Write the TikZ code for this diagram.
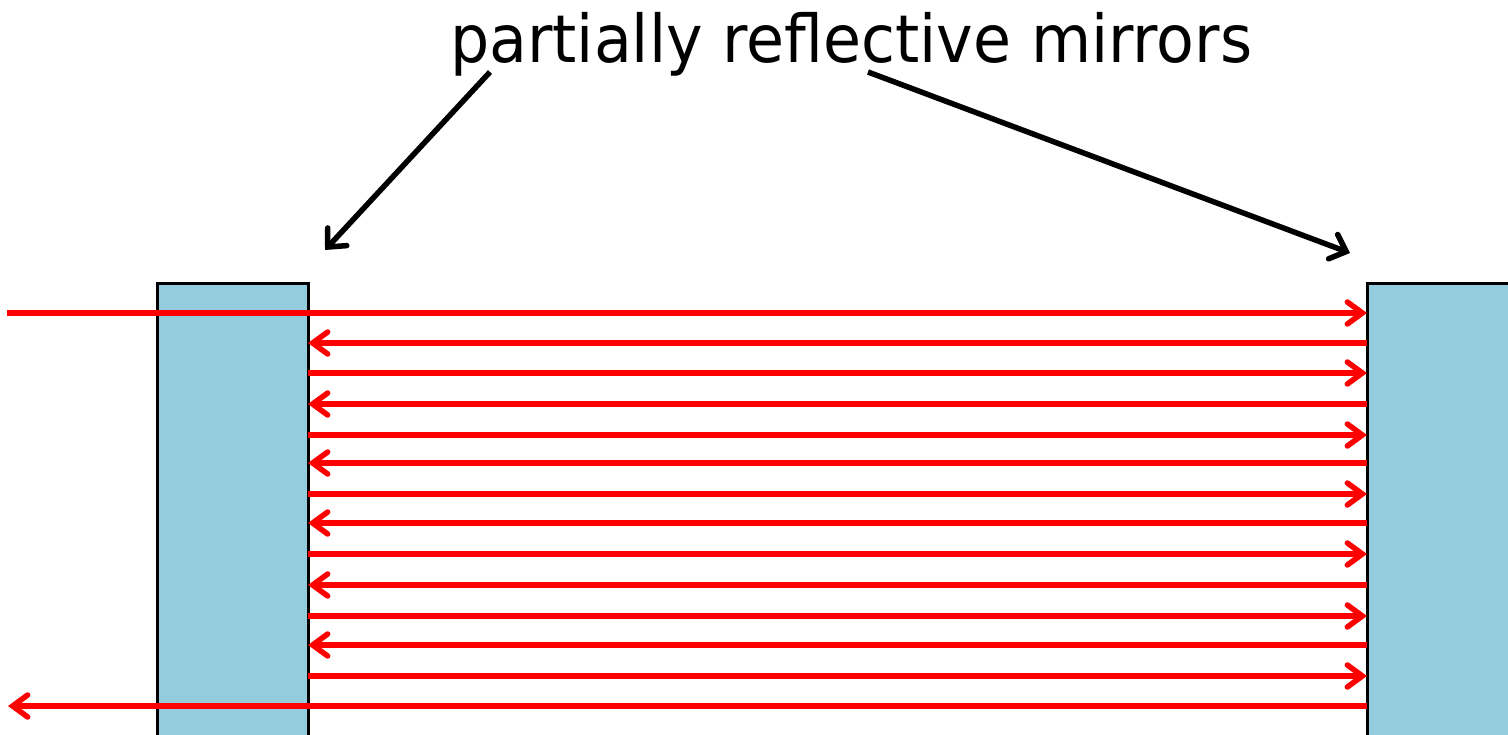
\documentclass[tikz,border=0pt]{standalone}
\usepackage{fontspec}
\setmainfont{DejaVu Sans}
\usetikzlibrary{arrows.meta,calc}
\definecolor{mirrorblue}{HTML}{93CDDD}
\definecolor{beamred}{HTML}{FF0000}
\begin{document}
\begin{tikzpicture}[x=1pt,y=-1pt,
  mirror/.style={draw=black,line width=3pt,fill=mirrorblue,anchor=north west,
    inner sep=0pt,outer sep=0pt,minimum height=480pt},
  beamtip/.style={-{Straight Barb[length=15pt,width=22pt,line cap=round]}},
  beam/.style={draw=beamred,line width=5.5pt,beamtip},
  pointer/.style={draw=black,line width=5.5pt,-{Straight Barb[length=14pt,width=26pt,line cap=round]}}]
\useasboundingbox (0,0) rectangle (1508,734);
\node[mirror,minimum width=151pt] (lm) at (157,283) {};
\node[mirror,minimum width=200pt] (rm) at (1367,283) {};
\node[anchor=base west,inner sep=0pt] (t) at (450,62)
  {\resizebox{802pt}{\height}{\fontsize{66}{66}\selectfont partially reflective mirrors}};
% pointers
\coordinate (p1) at (490,72);
\coordinate (p2) at (868,72);
\draw[pointer] (p1) -- ($(lm.north east)+(17,-33)$);
\draw[pointer] (p2) -- ($(rm.north west)+(-17,-30)$);
% beams
\coordinate (inL) at (7,313);
\coordinate (outL) at (8,706);
\draw[beam] (inL) -- (rm.west |- inL);
\foreach \y in {373,435,494,554,616,676}
  \draw[beam] (lm.east |- 0,\y) -- (rm.west |- 0,\y);
\foreach \y in {343,404,463,523,585,645}
  \draw[beam] (rm.west |- 0,\y) -- (lm.east |- 0,\y);
\draw[beam] (rm.west |- outL) -- (outL);
\end{tikzpicture}
\end{document}
